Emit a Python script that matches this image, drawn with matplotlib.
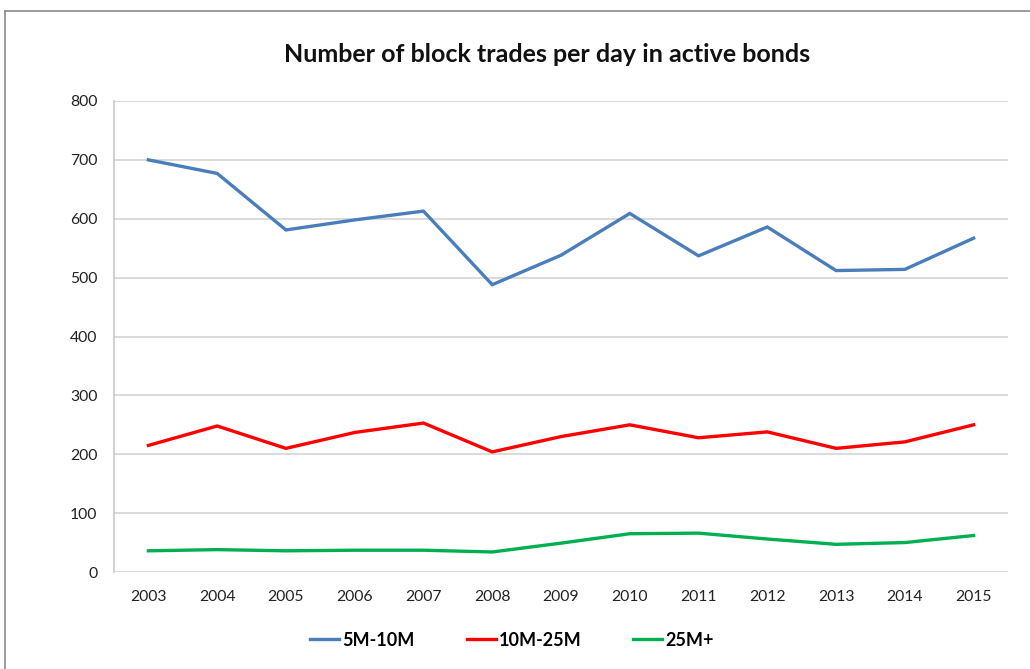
import matplotlib
matplotlib.use("Agg")
import matplotlib.pyplot as plt
from matplotlib.lines import Line2D

years = ["2003", "2004", "2005", "2006", "2007", "2008", "2009",
         "2010", "2011", "2012", "2013", "2014", "2015"]
s_5_10 = [700, 677, 581, 598, 613, 488, 538, 609, 537, 586, 512, 514, 567]
s_10_25 = [215, 248, 210, 237, 253, 204, 230, 250, 228, 238, 210, 221, 250]
s_25p = [36, 38, 36, 37, 37, 34, 49, 65, 66, 56, 47, 50, 62]
series_names = ["5M-10M", "10M-25M", "25M+"]
colors = ["#4A7EBB", "#FF0000", "#00B050"]
yticks = [0, 100, 200, 300, 400, 500, 600, 700, 800]

plt.rcParams['font.family'] = ['Lato', 'DejaVu Sans']

fig = plt.figure(figsize=(10.30, 6.69), dpi=100)
ax = fig.add_axes([114/1030, 97/669, 894/1030, 471/669])

x = list(range(len(years)))
for vals, name, c in zip([s_5_10, s_10_25, s_25p], series_names, colors):
    ax.plot(x, vals, color=c, lw=2.4, label=name, solid_joinstyle='miter')

ax.set_xlim(-0.5, len(years) - 0.5)
ax.set_ylim(0, 800)
ax.set_yticks(yticks)
ax.set_xticks(x)
ax.set_xticklabels(years)
ax.tick_params(axis='both', length=0, labelsize=11.3, colors='#222222')
ax.tick_params(axis='y', pad=12)
ax.tick_params(axis='x', pad=13)
ax.grid(axis='y', color='#D4D4D4', lw=1.2)
ax.set_axisbelow(True)
for s in ['top', 'right', 'bottom']:
    ax.spines[s].set_visible(False)
ax.spines['left'].set_color('#C8C8C8')
ax.spines['left'].set_linewidth(1.2)

fig.text(547/1030, 1 - 55/669, "Number of block trades per day in active bonds",
         ha='center', va='center', fontsize=18, fontweight='bold', color='#111111')

leg = fig.legend(loc='center', bbox_to_anchor=(512/1030, 1 - 640/669), ncol=3,
                 frameon=False, handlelength=1.6, handletextpad=0.15,
                 columnspacing=2.9, prop={'weight': 'bold', 'size': 13})

# outer border (top and left)
fig.add_artist(Line2D([5/1030, 1], [1 - 11/669, 1 - 11/669], color='#8A8A8A', lw=1.2,
                      transform=fig.transFigure))
fig.add_artist(Line2D([5/1030, 5/1030], [0, 1 - 11/669], color='#8A8A8A', lw=1.2,
                      transform=fig.transFigure))

fig.savefig("out.png", dpi=100)
